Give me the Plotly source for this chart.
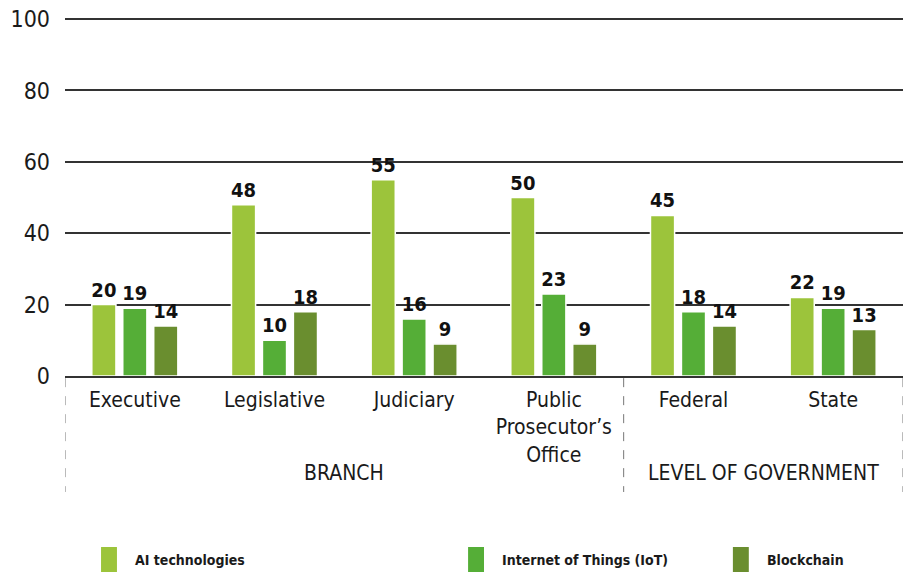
import plotly.graph_objects as go

categories = ["Executive", "Legislative", "Judiciary", "Public<br>Prosecutor’s<br>Office", "Federal", "State"]
series_names = ["AI technologies", "Internet of Things (IoT)", "Blockchain"]
ai_values = [20, 48, 55, 50, 45, 22]
iot_values = [19, 10, 16, 23, 18, 19]
blockchain_values = [14, 18, 9, 9, 14, 13]
colors = ["#9cc43b", "#55ae37", "#6a8e2f"]
y_ticks = [0, 20, 40, 60, 80, 100]
group_labels = ["BRANCH", "LEVEL OF GOVERNMENT"]

FONT = "DejaVu Sans Condensed, Liberation Sans Narrow, Roboto, sans-serif"

fig = go.Figure()
for name, vals, col in zip(series_names, [ai_values, iot_values, blockchain_values], colors):
    fig.add_trace(go.Bar(
        x=list(range(len(categories))), y=vals, name=name,
        marker=dict(color=col, line=dict(color="white", width=1.5)),
        text=[str(v) for v in vals], textposition="outside",
        textfont=dict(family=FONT, size=20, color="#111111", weight="bold"),
        constraintext="none", cliponaxis=False, showlegend=False,
    ))

fig.update_layout(
    width=909, height=573,
    margin=dict(l=65, r=6, t=18, b=197),
    paper_bgcolor="white", plot_bgcolor="white",
    barmode="group", bargap=0.335, bargroupgap=0.22,
    font=dict(family=FONT, color="#1a1a1a"),
)
fig.update_xaxes(
    tickmode="array", tickvals=list(range(len(categories))), ticktext=categories,
    range=[-0.5, len(categories) - 0.5],
    showgrid=False, showline=True, linecolor="#333333", linewidth=1.5,
    ticks="", ticklabelstandoff=4, tickfont=dict(size=21, color="#1a1a1a"),
)
fig.update_yaxes(
    range=[0, 100.3], tickvals=y_ticks, showgrid=True, gridcolor="#333333", gridwidth=1.5,
    zeroline=False, showline=False, ticks="", ticklabelstandoff=14,
    tickfont=dict(size=23, color="#1a1a1a"),
)

# dashed group separators
for xv in [-0.5, 3.5, 5.5]:
    fig.add_shape(type="line", xref="x", yref="paper", x0=xv, x1=xv, y0=-0.006, y1=-0.324,
                  line=dict(color="#777777", width=1, dash="dash"))

# group labels
for lbl, xc in zip(group_labels, [1.5, 4.5]):
    fig.add_annotation(text=lbl, xref="x", yref="paper", x=xc, y=-0.271, showarrow=False,
                       font=dict(size=21, color="#1a1a1a"), xanchor="center", yanchor="middle")

# manual legend
leg_x = [0.043, 0.481, 0.797]
for name, col, lx in zip(series_names, colors, leg_x):
    fig.add_shape(type="rect", xref="paper", yref="paper", x0=lx, x1=lx + 0.019,
                  y0=-0.5475, y1=-0.4777, fillcolor=col, line=dict(width=0))
    fig.add_annotation(text="<b>" + name + "</b>", xref="paper", yref="paper", x=lx + 0.038, y=-0.513,
                       showarrow=False, xanchor="left", yanchor="middle",
                       font=dict(size=14, color="#1a1a1a"))

fig.write_html("out.html", config={"displayModeBar": False},
               post_script="document.body.style.margin='0';document.body.style.overflow='hidden';")
